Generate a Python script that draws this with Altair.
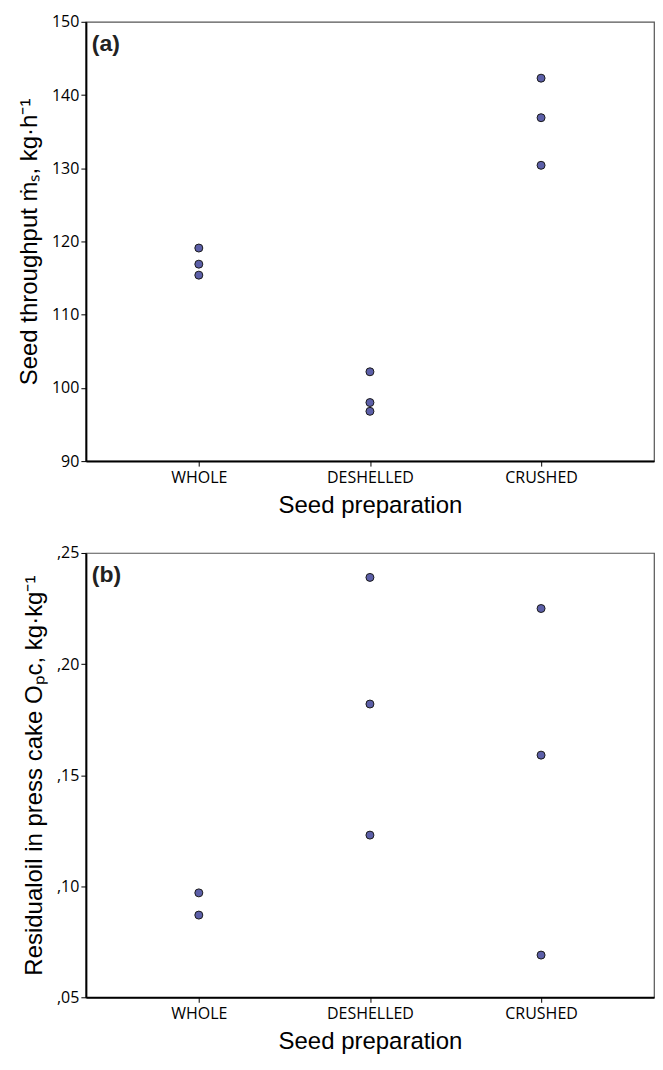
import altair as alt
import pandas as pd

categories = ["WHOLE", "DESHELLED", "CRUSHED"]

# Panel (a): seed throughput, kg/h
thr_prep = ["WHOLE", "WHOLE", "WHOLE",
            "DESHELLED", "DESHELLED", "DESHELLED",
            "CRUSHED", "CRUSHED", "CRUSHED"]
thr_vals = [119.1, 116.9, 115.4, 102.2, 98.0, 96.8, 142.3, 136.9, 130.4]
thr_ticks = [90, 100, 110, 120, 130, 140, 150]

# Panel (b): residual oil in press cake, kg/kg
oil_prep = ["WHOLE", "WHOLE",
            "DESHELLED", "DESHELLED", "DESHELLED",
            "CRUSHED", "CRUSHED", "CRUSHED"]
oil_vals = [0.097, 0.087, 0.239, 0.182, 0.123, 0.225, 0.159, 0.069]
oil_ticks = [0.05, 0.10, 0.15, 0.20, 0.25]

TITLE_FONT = "Liberation Sans"
LABEL_FONT = "Open Sans"
POINT_FILL = "#5C5FA8"


def panel(prep, vals, ticks, domain, ytitle, tag, label_expr, height):
    df = pd.DataFrame({"prep": prep, "value": vals})
    pts = alt.Chart(df).mark_circle(
        size=64, color=POINT_FILL, stroke="#1a1a1a", strokeWidth=1, opacity=1
    ).encode(
        x=alt.X("prep:N", sort=categories,
                scale=alt.Scale(type="point", padding=0.66),
                axis=alt.Axis(title="Seed preparation", labelAngle=0,
                              labelPadding=3, titlePadding=8)),
        y=alt.Y("value:Q",
                scale=alt.Scale(domain=domain, nice=False, zero=False),
                axis=alt.Axis(values=ticks, title=ytitle, labelExpr=label_expr,
                              titlePadding=10, labelPadding=2)),
    )
    lab = alt.Chart(pd.DataFrame({"t": [tag]})).mark_text(
        font=TITLE_FONT, fontSize=23, fontWeight="bold", align="left",
        baseline="top", color="#222222"
    ).encode(text="t:N", x=alt.value(6), y=alt.value(11))
    return alt.layer(pts, lab).properties(width=569, height=height)


top = panel(thr_prep, thr_vals, thr_ticks, [90, 150],
            "Seed throughput ṁₛ, kg·h⁻¹", "(a)", "format(datum.value, 'd')", 440)
bottom = panel(oil_prep, oil_vals, oil_ticks, [0.05, 0.25],
               "Residualoil in press cake Oₚc,  kg·kg⁻¹", "(b)",
               "replace(format(datum.value, '.2f'), '0.', ',')", 445)

chart = alt.vconcat(top, bottom, spacing=26).properties(
    padding={"left": 8, "top": 4, "right": 0, "bottom": 5},
    background="white",
).configure_view(
    stroke="#555555", strokeWidth=1.2
).configure_axis(
    grid=False,
    domainColor="black", domainWidth=2,
    tickColor="black", tickSize=5, tickWidth=1,
    labelFont=LABEL_FONT, labelFontSize=16, labelColor="black",
    titleFont=TITLE_FONT, titleFontSize=24, titleFontWeight="normal",
    titleColor="black",
)

chart.save("out.html", embed_options={"renderer": "svg", "actions": False})
